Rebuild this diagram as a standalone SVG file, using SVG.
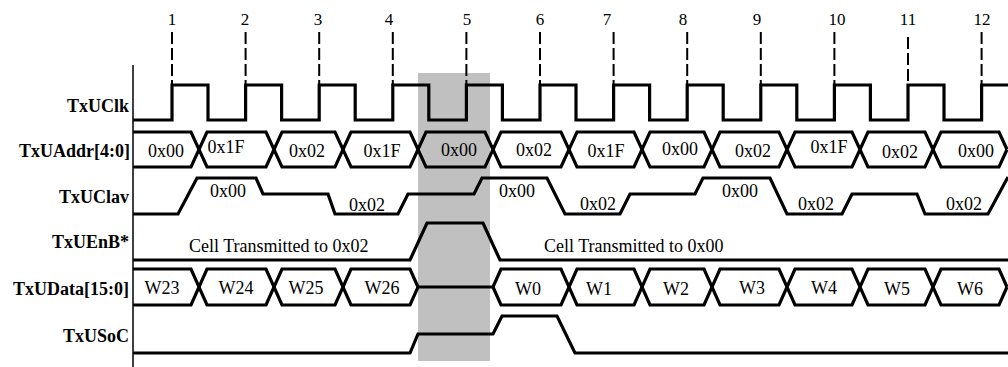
<svg xmlns="http://www.w3.org/2000/svg" width="1008" height="367" viewBox="0 0 1008 367">
<style>
.lbl{font-family:"Liberation Serif","Times New Roman",serif;font-weight:bold;font-size:18px;text-anchor:end;fill:#000}
.val{font-family:"Liberation Serif","Times New Roman",serif;font-size:18px;text-anchor:middle;fill:#000}
.num{font-family:"Liberation Serif","Times New Roman",serif;font-size:17px;text-anchor:middle;fill:#000}
.cell{font-family:"Liberation Serif","Times New Roman",serif;font-size:18px;fill:#000}
.sig{fill:none;stroke:#000;stroke-width:3.2;stroke-linejoin:miter}
.dash{stroke:#000;stroke-width:2;stroke-dasharray:12 4}
</style>
<rect id="highlight" x="418" y="73" width="72" height="288" fill="#c0c0c0"/>
<line id="axis" x1="133" y1="65" x2="133" y2="367" stroke="#000" stroke-width="1.5"/>
<g id="clock-markers">
<g class="num">
<text x="172" y="25">1</text><text x="245" y="25">2</text><text x="318" y="25">3</text><text x="389" y="25">4</text><text x="467" y="25">5</text><text x="540" y="25">6</text><text x="607" y="25">7</text><text x="683" y="25">8</text><text x="757" y="25">9</text><text x="837" y="25">10</text><text x="908" y="25">11</text><text x="982" y="25">12</text>
</g>
<g class="dash">
<line x1="172" y1="32" x2="172" y2="85"/><line x1="245.6" y1="32" x2="245.6" y2="85"/><line x1="319.2" y1="32" x2="319.2" y2="85"/><line x1="392.8" y1="32" x2="392.8" y2="85"/><line x1="466.4" y1="32" x2="466.4" y2="85"/><line x1="540" y1="32" x2="540" y2="85"/><line x1="613.6" y1="32" x2="613.6" y2="85"/><line x1="687.2" y1="32" x2="687.2" y2="85"/><line x1="760.8" y1="32" x2="760.8" y2="85"/><line x1="834.4" y1="32" x2="834.4" y2="85"/><line x1="908" y1="37" x2="908" y2="85"/><line x1="981.6" y1="32" x2="981.6" y2="85"/>
</g>
</g>
<g id="TxUClk">
<text class="lbl" x="129" y="112">TxUClk</text>
<path class="sig" d="M133,120 H172 V85 H208 V120 H245.6 V85 H281.6 V120 H319.2 V85 H355.2 V120 H392.8 V85 H428.8 V120 H466.4 V85 H502.4 V120 H540 V85 H576 V120 H613.6 V85 H649.6 V120 H687.2 V85 H723.2 V120 H760.8 V85 H796.8 V120 H834.4 V85 H870.4 V120 H908 V85 H944 V120 H981.6 V85 H1008"/>
</g>
<g id="TxUAddr">
<text class="lbl" x="130" y="157">TxUAddr[4:0]</text>
<path class="sig" d="M133,132 H191 L207,167 H266 L282,132 H335 L351,167 H410 L426,132 H485 L501,167 H561 L577,132 H634 L650,167 H704 L720,132 H779 L795,167 H852 L868,132 H925 L941,167 H999 L1007,149.5"/>
<path class="sig" d="M133,167 H191 L207,132 H266 L282,167 H335 L351,132 H410 L426,167 H485 L501,132 H561 L577,167 H634 L650,132 H704 L720,167 H779 L795,132 H852 L868,167 H925 L941,132 H999 L1007,149.5"/>
<text class="val" x="166" y="157">0x00</text><text class="val" x="226" y="153">0x1F</text><text class="val" x="307" y="157">0x02</text><text class="val" x="382" y="157">0x1F</text><text class="val" x="459" y="156">0x00</text><text class="val" x="534" y="156">0x02</text><text class="val" x="606" y="157">0x1F</text><text class="val" x="680" y="155">0x00</text><text class="val" x="753" y="157">0x02</text><text class="val" x="829" y="153">0x1F</text><text class="val" x="900" y="158">0x02</text><text class="val" x="976" y="157">0x00</text>
</g>
<g id="TxUClav">
<text class="lbl" x="129" y="203">TxUClav</text>
<path class="sig" d="M133,214 H178 L197,178 H256 L263,194 H328 L335,214 H398 L408,194 H474 L482,178 H547 L565,214 H620 L630,194 H695 L703,178 H770 L787,214 H842 L852,194 H917 L925,214 H988 L1008,177"/>
<text class="val" x="228" y="196.5">0x00</text><text class="val" x="367" y="211">0x02</text><text class="val" x="517" y="197">0x00</text><text class="val" x="598" y="210">0x02</text><text class="val" x="740" y="197">0x00</text><text class="val" x="816" y="209.5">0x02</text><text class="val" x="964" y="209.5">0x02</text>
</g>
<g id="TxUEnB">
<text class="lbl" x="129" y="248">TxUEnB*</text>
<path class="sig" d="M133,260 H410 L427,223 H483 L500,260 H1008"/>
<text class="cell" x="189" y="252">Cell Transmitted to 0x02</text>
<text class="cell" x="544" y="252">Cell Transmitted to 0x00</text>
</g>
<g id="TxUData">
<text class="lbl" x="129" y="295">TxUData[15:0]</text>
<path class="sig" d="M133,269 H191 L207,305 H266 L282,269 H335 L351,305 H410 L418,287 H493 L501,269 H561 L577,305 H634 L650,269 H704 L720,305 H779 L795,269 H852 L868,305 H925 L941,269 H999 L1007,287"/>
<path class="sig" d="M133,305 H191 L207,269 H266 L282,305 H335 L351,269 H410 L418,287 M493,287 L501,305 H561 L577,269 H634 L650,305 H704 L720,269 H779 L795,305 H852 L868,269 H925 L941,305 H999 L1007,287"/>
<text class="val" x="162" y="294">W23</text><text class="val" x="236" y="294">W24</text><text class="val" x="306" y="294">W25</text><text class="val" x="382" y="294">W26</text><text class="val" x="528" y="295">W0</text><text class="val" x="599" y="295">W1</text><text class="val" x="676" y="295">W2</text><text class="val" x="752" y="294">W3</text><text class="val" x="824" y="294">W4</text><text class="val" x="897" y="295">W5</text><text class="val" x="970" y="295">W6</text>
</g>
<g id="TxUSoC">
<text class="lbl" x="129" y="342">TxUSoC</text>
<path class="sig" d="M133,353 H410 L418,334 H493 L502,316 H557 L575,353 H1008"/>
</g>
</svg>
